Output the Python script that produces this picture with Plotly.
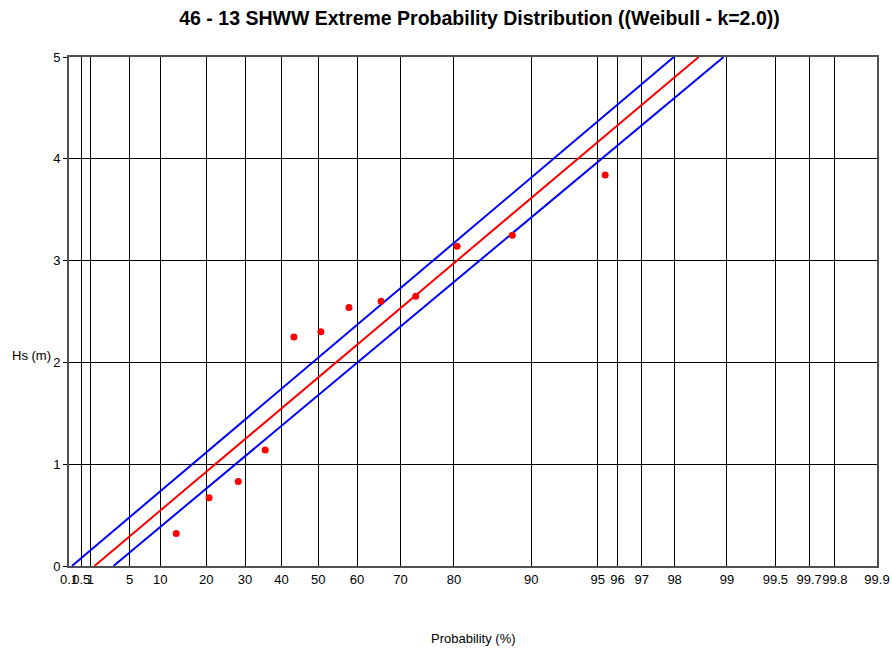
import numpy as np
import plotly.graph_objects as go

K = 2.0  # Weibull shape

# Probability axis ticks (%)
tick_probs = [0.1, 0.5, 1, 5, 10, 20, 30, 40, 50, 60, 70, 80, 90, 95, 96, 97, 98, 99, 99.5, 99.7, 99.8, 99.9]
tick_labels = ["0.1", "0.5", "1", "5", "10", "20", "30", "40", "50", "60", "70", "80", "90", "95", "96", "97", "98", "99", "99.5", "99.7", "99.8", "99.9"]

# Observed extremes: plotting-position probability (%) and Hs (m)
obs_prob = [13.2, 20.7, 28.2, 35.5, 43.4, 50.7, 58.0, 65.7, 73.1, 80.5, 88.0, 95.4]
obs_hs = [0.32, 0.67, 0.83, 1.14, 2.25, 2.30, 2.54, 2.60, 2.65, 3.14, 3.25, 3.84]

# Fitted line and confidence band: Hs = location + scale * reduced variate
fit_names = ["Upper", "Fit", "Lower"]
fit_location = [-0.106, -0.292, -0.445]
fit_scale = [2.585, 2.575, 2.55]
fit_colors = ["#0000FF", "#FF0000", "#0000FF"]

y_ticks = [0, 1, 2, 3, 4, 5]


def reduced(p_percent):
    p = np.asarray(p_percent, dtype=float) / 100.0
    return (-np.log(1.0 - p)) ** (1.0 / K)


fig = go.Figure()

hs_end = np.array([0.0, 5.0])
for name, loc, sc, col in zip(fit_names, fit_location, fit_scale, fit_colors):
    xr = (hs_end - loc) / sc
    fig.add_trace(go.Scatter(x=xr, y=hs_end, mode="lines", name=name,
                             line=dict(color=col, width=2), hoverinfo="skip"))

fig.add_trace(go.Scatter(x=reduced(obs_prob), y=obs_hs, mode="markers", name="Data",
                         marker=dict(color="#FF0000", size=7)))

xr_min = float(reduced(0.1)) - 1e-6
xr_max = float(reduced(99.9)) + 1e-6

font_family = "Liberation Sans, Arial, sans-serif"

fig.update_layout(
    width=892, height=655,
    margin=dict(l=69, r=15, t=57, b=89, autoexpand=False),
    paper_bgcolor="white", plot_bgcolor="white",
    showlegend=False,
    font=dict(family=font_family, size=13, color="black"),
    title=dict(text="<b>46 - 13 SHWW Extreme Probability Distribution ((Weibull - k=2.0))</b>",
               x=479.5 / 892, xanchor="center", y=1 - 18 / 655, yanchor="middle",
               font=dict(family=font_family, size=19.5, color="black")),
    xaxis=dict(range=[xr_min, xr_max], tickmode="array",
               tickvals=reduced(tick_probs).tolist(), ticktext=tick_labels,
               tickangle=0, automargin=False,
               showgrid=True, gridcolor="black", gridwidth=1,
               showline=True, linecolor="#505050", linewidth=2, mirror=True,
               ticks="", zeroline=False, tickfont=dict(size=13)),
    yaxis=dict(range=[0, 5], tickmode="array", tickvals=y_ticks, automargin=False,
               showgrid=True, gridcolor="black", gridwidth=1,
               showline=True, linecolor="#505050", linewidth=2, mirror=True,
               ticks="outside", ticklen=4, tickcolor="black",
               zeroline=False, tickfont=dict(size=13)),
    annotations=[
        dict(text="Hs (m)", xref="paper", yref="paper", x=-69 / 808 + 10 / 808, y=(655 - 89 - 355) / 509,
             xanchor="left", yanchor="middle", showarrow=False, font=dict(size=13)),
        dict(text="Probability (%)", xref="paper", yref="paper", x=0.5, y=-(638 - 566) / 509,
             xanchor="center", yanchor="middle", showarrow=False, font=dict(size=13)),
    ],
)

fig.write_html("out.html")
